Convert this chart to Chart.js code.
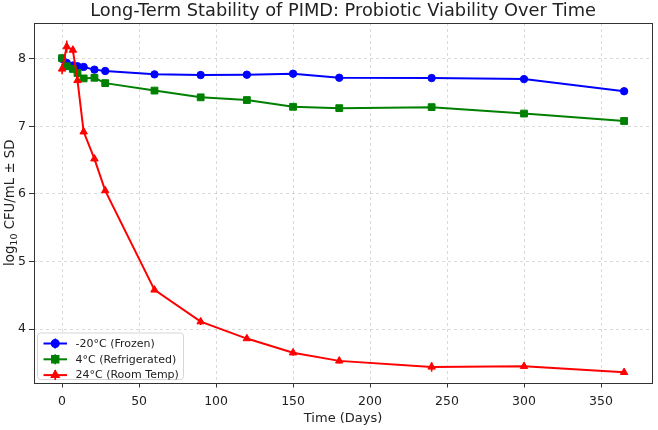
<!DOCTYPE html>
<html>
<head>
<meta charset="utf-8">
<script src="https://cdn.jsdelivr.net/npm/chart.js@4.4.1/dist/chart.umd.min.js"></script>
<style>
html,body{margin:0;padding:0;background:#fff;}
#wrap{width:658px;height:430px;}
</style>
</head>
<body>
<div id="wrap"><canvas id="c" width="658" height="430"></canvas></div>
<script>
// ---- data ----
const days = [0, 3, 7, 10, 14, 21, 28, 60, 90, 120, 150, 180, 240, 300, 365];
const frozenMean = [8.00, 7.94, 7.90, 7.89, 7.88, 7.84, 7.82, 7.77, 7.76, 7.765, 7.78, 7.72, 7.715, 7.70, 7.52];
const frozenSD   = [0.03, 0.02, 0.02, 0.02, 0.02, 0.02, 0.02, 0.02, 0.02, 0.02, 0.02, 0.02, 0.02, 0.02, 0.02];
const fridgeMean = [8.01, 7.89, 7.85, 7.79, 7.71, 7.72, 7.64, 7.53, 7.43, 7.39, 7.29, 7.27, 7.285, 7.19, 7.08];
const fridgeSD   = [0.03, 0.03, 0.02, 0.03, 0.02, 0.02, 0.02, 0.02, 0.02, 0.02, 0.02, 0.02, 0.02, 0.03, 0.02];
const roomMean   = [7.85, 8.18, 8.13, 7.68, 6.92, 6.52, 6.05, 4.58, 4.11, 3.86, 3.65, 3.53, 3.44, 3.45, 3.36];
const roomSD     = [0.08, 0.09, 0.05, 0.04, 0.03, 0.04, 0.03, 0.03, 0.05, 0.03, 0.04, 0.04, 0.07, 0.03, 0.03];
const seriesLabels = ['-20°C (Frozen)', '4°C (Refrigerated)', '24°C (Room Temp)'];
const xTicks = [0, 50, 100, 150, 200, 250, 300, 350];
const yTicks = [4, 5, 6, 7, 8];
const titleText = 'Long-Term Stability of PIMD: Probiotic Viability Over Time';
const xTitle = 'Time (Days)';
const yTitleParts = ['log', '10', ' CFU/mL ± SD'];

const colors = ['#0000ff', '#008000', '#ff0000'];
const styles = ['circle', 'rect', 'triangle'];
const radii = [3.7, 4.8, 4.3];
const means = [frozenMean, fridgeMean, roomMean];
const sds = [frozenSD, fridgeSD, roomSD];

const FONT = "'DejaVu Sans', sans-serif";
const TXT = '#222';

function pts(m){ return days.map((d,i)=>({x:d, y:m[i]})); }

const datasets = means.map((m, k) => ({
  label: seriesLabels[k],
  data: pts(m),
  sd: sds[k],
  borderColor: colors[k],
  backgroundColor: colors[k],
  borderWidth: 2,
  pointStyle: styles[k],
  pointRadius: radii[k],
  pointBorderWidth: 1,
  pointBackgroundColor: colors[k],
  pointBorderColor: colors[k],
  tension: 0,
  fill: false,
  order: 2 - k
}));

const errorBars = {
  id: 'errorBars',
  beforeDatasetsDraw(chart) {
    const {ctx, scales:{x, y}} = chart;
    chart.data.datasets.forEach((ds, k) => {
      ctx.save();
      ctx.strokeStyle = ds.borderColor;
      ctx.lineWidth = 1.6;
      ds.data.forEach((p, i) => {
        const px = x.getPixelForValue(p.x);
        ctx.beginPath();
        ctx.moveTo(px, y.getPixelForValue(p.y - ds.sd[i]));
        ctx.lineTo(px, y.getPixelForValue(p.y + ds.sd[i]));
        ctx.stroke();
      });
      ctx.restore();
    });
  }
};

const frameTitle = {
  id: 'frameTitle',
  afterDraw(chart) {
    const {ctx, chartArea:a} = chart;
    ctx.save();
    ctx.strokeStyle = '#333';
    ctx.lineWidth = 1;
    ctx.strokeRect(Math.round(a.left)+0.5, Math.round(a.top)+0.5, Math.round(a.right-a.left), Math.round(a.bottom-a.top));
    ctx.fillStyle = TXT;
    ctx.font = '17.8px ' + FONT;
    ctx.textAlign = 'center';
    ctx.textBaseline = 'middle';
    ctx.fillText(titleText, (a.left + a.right)/2, 11);
    // y-axis title with subscript
    const big = '13.3px ' + FONT, small = '9.5px ' + FONT;
    ctx.font = big; const w0 = ctx.measureText(yTitleParts[0]).width;
    const w2 = ctx.measureText(yTitleParts[2]).width;
    ctx.font = small; const w1 = ctx.measureText(yTitleParts[1]).width;
    const total = w0 + w1 + w2;
    ctx.translate(9.5, (a.top + a.bottom)/2);
    ctx.rotate(-Math.PI/2);
    ctx.textAlign = 'left';
    ctx.textBaseline = 'alphabetic';
    let cx = -total/2;
    const base = 4.5;
    ctx.font = big; ctx.fillText(yTitleParts[0], cx, base); cx += w0;
    ctx.font = small; ctx.fillText(yTitleParts[1], cx, base + 2.5); cx += w1;
    ctx.font = big; ctx.fillText(yTitleParts[2], cx, base);
    ctx.restore();
  }
};

const legendBox = {
  id: 'legendBox',
  afterDraw(chart) {
    const {ctx, chartArea:a} = chart;
    const bx = a.left + 3.5, by = a.bottom - 49.5, bw = 146, bh = 46.5;
    ctx.save();
    ctx.beginPath();
    if (ctx.roundRect) ctx.roundRect(bx, by, bw, bh, 3); else ctx.rect(bx, by, bw, bh);
    ctx.fillStyle = 'rgba(255,255,255,0.85)';
    ctx.fill();
    ctx.strokeStyle = '#d6d6d6';
    ctx.lineWidth = 1;
    ctx.stroke();
    ctx.font = '11px ' + FONT;
    ctx.textBaseline = 'middle';
    ctx.textAlign = 'left';
    chart.data.datasets.forEach((ds, k) => {
      const cy = by + 10.5 + k * 15.8;
      const x0 = bx + 6, x1 = bx + 29.5, cx = (x0 + x1)/2;
      ctx.strokeStyle = ds.borderColor;
      ctx.lineWidth = 2;
      ctx.beginPath(); ctx.moveTo(x0, cy); ctx.lineTo(x1, cy); ctx.stroke();
      ctx.lineWidth = 1.6;
      ctx.beginPath(); ctx.moveTo(cx, cy - 5); ctx.lineTo(cx, cy + 5); ctx.stroke();
      ctx.fillStyle = ds.borderColor;
      Chart.helpers.drawPoint(ctx, {pointStyle: ds.pointStyle, radius: ds.pointRadius, borderWidth: 1}, cx, cy);
      ctx.fillStyle = TXT;
      ctx.fillText(ds.label, bx + 38, cy + 0.5);
    });
    ctx.restore();
  }
};

new Chart(document.getElementById('c'), {
  type: 'line',
  data: { datasets },
  options: {
    responsive: false,
    animation: false,
    devicePixelRatio: 1,
    layout: { padding: { top: 23, right: 3, left: 0, bottom: 0 } },
    plugins: { legend: { display: false }, tooltip: { enabled: false }, title: { display: false } },
    scales: {
      x: {
        type: 'linear',
        min: -18.25, max: 383.25,
        afterBuildTicks(s){ s.ticks = xTicks.map(v => ({value: v})); },
        afterFit(s){ s.height = 47.5; },
        grid: { color: 'rgba(170,170,170,0.55)', lineWidth: 0.8, tickColor: '#333', tickLength: 5, tickWidth: 1, tickBorderDash: [] },
        border: { display: false, dash: [3, 3] },
        ticks: { color: TXT, font: { family: FONT, size: 12.5 }, padding: 7, maxRotation: 0, callback: v => String(v) },
        title: { display: true, text: xTitle, color: TXT, font: { family: FONT, size: 13 }, padding: { top: 0, bottom: 3.5 } }
      },
      y: {
        type: 'linear',
        min: 3.21, max: 8.53,
        afterBuildTicks(s){ s.ticks = yTicks.map(v => ({value: v})); },
        afterFit(s){ s.width = 34; },
        grid: { color: 'rgba(170,170,170,0.55)', lineWidth: 0.8, tickColor: '#333', tickLength: 5, tickWidth: 1, tickBorderDash: [] },
        border: { display: false, dash: [3, 3] },
        ticks: { color: TXT, font: { family: FONT, size: 12.5 }, padding: 3, callback: v => String(v) },
        title: { display: false }
      }
    }
  },
  plugins: [errorBars, frameTitle, legendBox]
});
</script>
</body>
</html>
